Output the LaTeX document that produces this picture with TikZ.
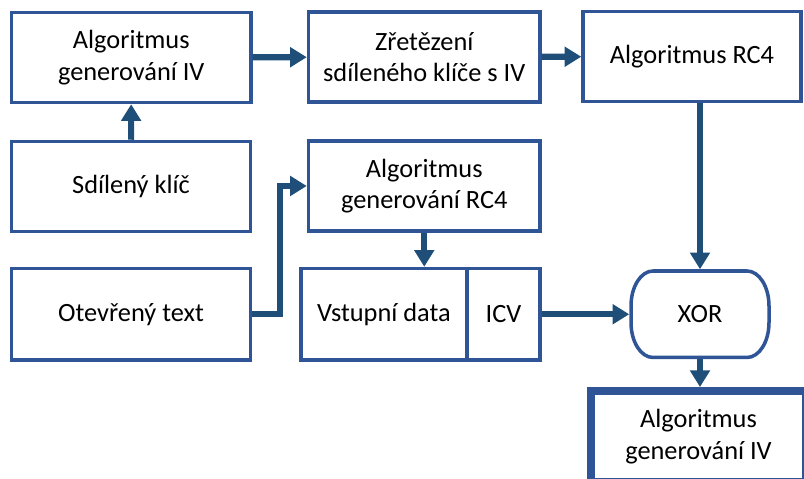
\documentclass[tikz,border=0pt]{standalone}
\usepackage{fontspec}
\setmainfont{Carlito}
\usetikzlibrary{arrows.meta}

\definecolor{boxblue}{HTML}{2F5597}
\definecolor{arrowblue}{HTML}{1F4E79}

\tikzset{
  block/.style={draw=boxblue, line width=2pt, fill=white, align=center,
    inner sep=0pt, font=\fontsize{15}{18}\selectfont},
  outline/.style={draw=boxblue, line width=2pt},
  flow/.style={draw=arrowblue, line width=3.5pt,
    -{Triangle[length=9.5pt,width=11pt]}},
}

\begin{document}
\begin{tikzpicture}[x=0.02cm, y=-0.02cm]
  \useasboundingbox (0,0) rectangle (804,479);
  \clip (0,0) rectangle (804,479);

  % top row
  \node[block, minimum width=4.79cm, minimum height=1.8cm] (ivgen) at (131.25,57.5)
    {Algoritmus\\generování IV};
  \node[block, minimum width=4.63cm, minimum height=1.8cm] (concat) at (424.25,57)
    {Zřetězení\\sdíleného klíče s IV};
  \node[block, minimum width=4.36cm, minimum height=1.8cm] (rc4) at (692,56.5)
    {Algoritmus RC4};

  % middle row
  \node[block, minimum width=4.78cm, minimum height=1.8cm] (key) at (131,186.5)
    {Sdílený klíč};
  \node[block, minimum width=4.63cm, minimum height=1.8cm] (rc4gen) at (424.25,186)
    {Algoritmus\\generování RC4};

  % bottom row
  \node[block, minimum width=4.78cm, minimum height=1.83cm] (plain) at (131,314.25)
    {Otevřený text};
  \node[block, minimum width=3.32cm, minimum height=1.83cm] (data) at (384,314.25)
    {Vstupní data};
  \node[block, minimum width=1.46cm, minimum height=1.83cm] (icv) at (503.5,314.25)
    {ICV};

  % XOR: box with elliptical corners
  \node[block, draw=none, fill=none, minimum width=2.76cm, minimum height=1.73cm]
    (xor) at (700,314.25) {};
  \draw[outline, fill=white] (xor.center) ++(-47,-43.25) -- ++(94,0)
    arc[start angle=90, end angle=0, x radius=0.44cm, y radius=0.7cm] -- ++(0,16.5)
    arc[start angle=0, end angle=-90, x radius=0.44cm, y radius=0.7cm] -- ++(-94,0)
    arc[start angle=270, end angle=180, x radius=0.44cm, y radius=0.7cm] -- ++(0,-16.5)
    arc[start angle=180, end angle=90, x radius=0.44cm, y radius=0.7cm] -- cycle;
  \node[font=\fontsize{15}{18}\selectfont] at (xor.center) {XOR};

  % output
  \node[block, line width=4.5pt, minimum width=4.3cm, minimum height=1.82cm]
    (out) at (698.5,436.5) {Algoritmus\\generování IV};

  % connectors
  \coordinate (bend) at (280,0);
  \draw[flow] (ivgen) -- (concat);
  \draw[flow] (concat) -- (rc4);
  \draw[flow] (key) -- (ivgen);
  \draw[flow] (plain.east) -- (plain.east -| bend) |- (rc4gen.west);
  \draw[flow] (rc4gen.south) -- (rc4gen.south |- data.north);
  \draw[flow] (icv.east) -- (xor.west);
  \draw[flow] (xor.north |- rc4.south) -- (xor.north);
  \draw[flow] (xor.south) -- (xor.south |- out.north);
\end{tikzpicture}
\end{document}
